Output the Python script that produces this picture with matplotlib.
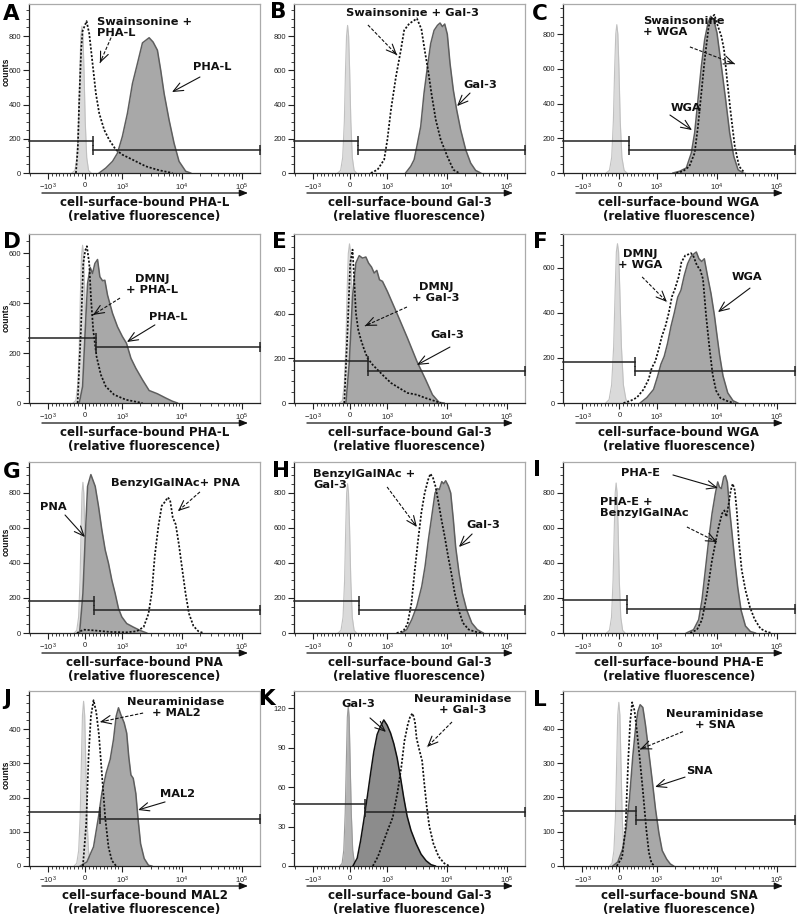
import matplotlib
matplotlib.use("Agg")
import matplotlib.pyplot as plt
from matplotlib.ticker import FixedLocator, FixedFormatter

plt.rcParams['font.family'] = ['Liberation Sans', 'DejaVu Sans']
plt.rcParams['mathtext.fontset'] = 'custom'
plt.rcParams['mathtext.rm'] = 'Liberation Sans'
plt.rcParams['mathtext.it'] = 'Liberation Sans:italic'
plt.rcParams['mathtext.bf'] = 'Liberation Sans:bold'

W, H = 798, 916

# ---------------- data (fluorescence value, counts) ----------------
# A
a_ctrl_x = [-360, -280, -225, -180, -147, -118, -90, -62, -33, 0, 40, 90, 160]
a_ctrl_y = [0, 15, 90, 300, 600, 800, 857, 800, 600, 300, 90, 15, 0]
a_fill_x = [378, 557, 739, 873, 1007, 1225, 1486, 1800, 2182, 2820, 3282, 3876, 4400, 5010, 6067, 7350, 8900, 11500, 13920]
a_fill_y = [0, 29, 68, 116, 213, 349, 523, 640, 760, 790, 765, 717, 600, 465, 310, 174, 68, 10, 0]
a_dot_x = [-252, -200, -162, -110, -72, 36, 108, 198, 288, 378, 513, 648, 828, 1007, 1486, 2477, 4130, 6900]
a_dot_y = [0, 150, 426, 720, 829, 887, 814, 640, 465, 349, 252, 194, 136, 107, 78, 39, 16, 0]
# B
b_ctrl_x = [-340, -260, -205, -160, -128, -100, -72, -44, -16, 16, 56, 105, 170]
b_ctrl_y = [0, 15, 90, 300, 600, 800, 862, 800, 600, 300, 90, 15, 0]
b_fill_x = [2030, 2475, 2820, 3130, 3630, 4120, 4700, 5330, 6067, 6900, 7640, 8360, 9140, 10100, 11200, 12720, 14480, 16860, 20460, 24760, 30000, 36400]
b_fill_y = [0, 39, 78, 155, 271, 465, 620, 756, 833, 862, 876, 855, 870, 810, 640, 484, 368, 252, 136, 58, 15, 0]
b_dot_x = [557, 738, 918, 1007, 1155, 1400, 1690, 1919, 2330, 2820, 3130, 3730, 4230, 4820, 5480, 6480, 7840, 10100, 12720, 15840]
b_dot_y = [0, 19, 78, 194, 368, 562, 717, 833, 872, 891, 903, 840, 717, 600, 465, 310, 194, 97, 19, 0]
# C
c_ctrl_x = [-360, -270, -210, -165, -130, -100, -72, -44, -14, 20, 65, 125, 200]
c_ctrl_y = [0, 15, 90, 300, 600, 800, 854, 800, 600, 300, 90, 15, 0]
c_fill_x = [1873, 2415, 3120, 3780, 4290, 4880, 5550, 6300, 7160, 7940, 8900, 10100, 11950, 14060, 16420, 19190, 22630, 27470]
c_fill_y = [0, 10, 29, 115, 230, 422, 614, 768, 864, 902, 883, 806, 614, 422, 230, 96, 19, 0]
c_dot_x = [2130, 2750, 3500, 4290, 4880, 5550, 6300, 7350, 8230, 9140, 10250, 11950, 13230, 14850, 17100, 19950, 23520, 29230]
c_dot_y = [0, 10, 38, 115, 269, 461, 653, 844, 893, 911, 854, 787, 710, 537, 345, 154, 38, 0]
# D
d_ctrl_x = [-330, -255, -203, -163, -130, -101, -72, -43, -12, 20, 62, 110, 175]
d_ctrl_y = [0, 10, 70, 220, 440, 590, 631, 590, 440, 220, 70, 10, 0]
d_fill_x = [-162, -72, -9, 63, 135, 198, 261, 333, 396, 468, 531, 603, 738, 873, 1007, 1180, 1400, 1690, 2180, 2820, 3870, 5330, 6900, 8360]
d_fill_y = [0, 66, 266, 478, 542, 518, 558, 574, 505, 489, 491, 432, 359, 305, 266, 239, 179, 139, 93, 50, 37, 20, 7, 0]
d_dot_x = [-207, -117, -54, 0, 45, 108, 153, 216, 306, 423, 557, 783, 1155, 2180]
d_dot_y = [0, 292, 558, 610, 627, 558, 425, 292, 186, 113, 66, 33, 13, 0]
# E
e_ctrl_x = [-290, -215, -162, -120, -85, -52, -20, 12, 45, 80, 122, 175, 240]
e_ctrl_y = [0, 10, 80, 250, 500, 670, 713, 670, 500, 250, 80, 10, 0]
e_fill_x = [-117, -27, 63, 153, 243, 333, 423, 495, 576, 648, 720, 792, 873, 1007, 1486, 2180, 3130, 4400, 5700, 7350, 8900]
e_fill_y = [0, 179, 478, 627, 660, 649, 654, 627, 609, 582, 594, 552, 545, 500, 396, 291, 187, 104, 37, 3, 0]
e_dot_x = [-162, -72, 0, 63, 108, 153, 216, 288, 378, 468, 603, 738, 918, 1155, 1590, 2180, 3130, 4400, 6067, 7840]
e_dot_y = [0, 328, 627, 687, 552, 403, 328, 284, 239, 201, 172, 149, 119, 90, 67, 45, 37, 22, 10, 0]
# F
f_ctrl_x = [-370, -280, -212, -157, -116, -84, -54, -24, 9, 52, 106, 175, 260]
f_ctrl_y = [0, 15, 80, 250, 500, 670, 707, 670, 500, 250, 80, 15, 0]
f_fill_x = [557, 738, 918, 1040, 1180, 1340, 1524, 1735, 1963, 2250, 2540, 2890, 3280, 3730, 4230, 4580, 5060, 5620, 6220, 7070, 8040, 9140, 10100, 11200, 12720, 15240, 18700, 22400]
f_fill_y = [0, 24, 60, 118, 172, 207, 265, 340, 398, 470, 500, 566, 618, 650, 663, 670, 640, 628, 640, 560, 485, 390, 300, 210, 120, 45, 10, 0]
f_dot_x = [108, 288, 468, 648, 783, 873, 963, 1080, 1225, 1400, 1590, 1800, 2030, 2330, 2590, 3000, 3410, 3730, 4120, 4700, 5330, 5910, 6640, 7530, 8570, 9740, 11500, 14850, 19190]
f_dot_y = [0, 9, 24, 60, 104, 157, 184, 237, 296, 340, 398, 472, 508, 560, 625, 655, 660, 665, 650, 610, 590, 550, 390, 250, 125, 55, 22, 9, 0]
# G
g_ctrl_x = [-300, -230, -180, -140, -111, -87, -63, -39, -13, 17, 55, 100, 165]
g_ctrl_y = [0, 15, 90, 300, 600, 800, 861, 800, 600, 300, 90, 15, 0]
g_fill_x = [-153, -63, 0, 63, 153, 270, 360, 450, 540, 630, 720, 810, 900, 990, 1190, 1530, 1980, 2570]
g_fill_y = [0, 226, 547, 837, 905, 838, 723, 589, 475, 398, 302, 226, 140, 92, 54, 34, 15, 0]
g_dot_x = [-225, -45, 225, 675, 1190, 1750, 2280, 2750, 3120, 3500, 4030, 4580, 5200, 5770, 6300, 6990, 7840, 8900, 10100, 11500, 13070, 15480, 18700, 22630]
g_dot_y = [0, 19, 15, 6, 4, 10, 34, 110, 230, 440, 612, 727, 750, 775, 760, 660, 620, 500, 360, 220, 110, 40, 10, 0]
# H
h_ctrl_x = [-330, -250, -195, -153, -122, -97, -72, -47, -18, 15, 55, 105, 170]
h_ctrl_y = [0, 15, 90, 300, 600, 800, 853, 800, 600, 300, 90, 15, 0]
h_fill_x = [1750, 2120, 2570, 3120, 3780, 4290, 4880, 5550, 6300, 6900, 7440, 8150, 8780, 9480, 10510, 11500, 12720, 13920, 15840, 17990, 21220, 25880, 32000, 40200]
h_fill_y = [0, 19, 76, 152, 267, 380, 533, 667, 800, 825, 820, 865, 853, 870, 840, 800, 648, 491, 343, 229, 133, 57, 19, 0]
h_dot_x = [1440, 1850, 2180, 2540, 2890, 3280, 3730, 4230, 4820, 5270, 5840, 6380, 7070, 8040, 9140, 10380, 11800, 13390, 15660, 18450, 22940, 28900, 37300]
h_dot_y = [0, 10, 50, 170, 360, 530, 690, 800, 875, 910, 885, 840, 760, 650, 550, 440, 340, 230, 130, 57, 20, 8, 0]
# I
i_ctrl_x = [-350, -270, -215, -173, -140, -115, -90, -65, -37, -5, 35, 85, 150]
i_ctrl_y = [0, 15, 90, 300, 600, 800, 857, 800, 600, 300, 90, 15, 0]
i_fill_x = [3130, 4120, 5010, 5690, 6470, 7350, 8360, 9480, 10380, 11070, 11950, 13070, 13920, 15030, 16420, 18200, 20150, 22360, 25390, 30000, 36400, 44060]
i_fill_y = [0, 19, 76, 190, 360, 531, 683, 796, 863, 834, 825, 891, 900, 860, 700, 550, 400, 260, 130, 40, 8, 0]
i_dot_x = [3630, 4700, 5690, 6900, 8360, 9480, 10780, 12280, 13390, 14480, 15840, 17100, 18450, 19950, 21530, 23530, 26020, 30000, 35450, 42380, 53300, 69000, 83600]
i_dot_y = [0, 19, 76, 227, 417, 512, 607, 683, 700, 665, 740, 815, 853, 815, 700, 510, 360, 245, 150, 80, 25, 5, 0]
# J
j_ctrl_x = [-300, -230, -178, -138, -105, -75, -45, -15, 15, 48, 88, 135, 200]
j_ctrl_y = [0, 8, 45, 140, 300, 440, 481, 440, 300, 140, 45, 8, 0]
j_fill_x = [-135, 45, 225, 360, 450, 567, 675, 765, 837, 900, 963, 1080, 1190, 1290, 1400, 1530, 1690, 1850, 2030, 2330, 2750, 3120]
j_fill_y = [0, 12, 56, 144, 213, 272, 311, 369, 437, 462, 442, 418, 388, 318, 266, 256, 212, 134, 65, 22, 2, 0]
j_dot_x = [-63, 27, 90, 153, 225, 297, 369, 450, 540, 630, 720, 837]
j_dot_y = [0, 124, 320, 437, 484, 450, 385, 270, 142, 55, 16, 0]
# K
k_ctrl_x = [-280, -220, -175, -137, -105, -79, -54, -29, -3, 29, 67, 115, 170]
k_ctrl_y = [0, 2, 12, 40, 80, 113, 122, 113, 80, 40, 12, 2, 0]
k_fill_x = [72, 189, 279, 369, 459, 549, 639, 729, 819, 909, 1000, 1140, 1290, 1470, 1660, 1890, 2150, 2500, 3040, 3680, 4470, 5400, 6380]
k_fill_y = [0, 6, 19, 35, 52, 70, 87, 100, 106, 111, 107, 101, 93, 82, 68, 52, 38, 27, 17, 9, 4, 1, 0]
k_dot_x = [612, 747, 882, 1017, 1240, 1500, 1720, 1940, 2220, 2440, 2660, 2900, 3100, 3450, 3830, 4180, 4580, 5060, 5910, 7250, 9000, 10900]
k_dot_y = [0, 7, 17, 27, 37, 57, 75, 95, 108, 114, 116, 110, 97, 88, 80, 62, 45, 30, 17, 7, 2, 0]
# L
l_ctrl_x = [-265, -200, -150, -110, -76, -47, -18, 11, 40, 74, 114, 165, 230]
l_ctrl_y = [0, 8, 45, 140, 300, 440, 477, 440, 300, 140, 45, 8, 0]
l_fill_x = [-180, -45, 90, 180, 270, 360, 432, 495, 557, 630, 702, 792, 882, 972, 1095, 1240, 1470, 1690, 1920]
l_fill_y = [0, 12, 51, 109, 196, 321, 400, 450, 470, 462, 410, 330, 250, 165, 95, 45, 20, 6, 0]
l_dot_x = [-72, 72, 162, 234, 288, 342, 405, 468, 540, 630, 720, 792, 864, 954]
l_dot_y = [0, 26, 110, 304, 420, 477, 453, 395, 320, 220, 110, 40, 8, 0]

panel_letters = ["A", "B", "C", "D", "E", "F", "G", "H", "I", "J", "K", "L"]
lectins = ["PHA-L", "Gal-3", "WGA", "PHA-L", "Gal-3", "WGA", "PNA", "Gal-3", "PHA-E", "MAL2", "Gal-3", "SNA"]
gate_x = [198, 216, 252, 288, 468, 423, 225, 234, 216, 387, 387, 432]
gate_left_y = [184, 184, 182, 259, 187, 181, 184, 185, 190, 158, 47, 159]
gate_right_y = [132, 132, 130, 223, 145, 141, 134, 133, 138, 136, 41, 133]
y_max = [987, 987, 973, 676, 757, 750, 977, 977, 977, 511, 133, 510]
y_step = [200, 200, 200, 200, 200, 200, 200, 200, 200, 100, 30, 100]
y_top_tick = [800, 800, 800, 600, 600, 600, 800, 800, 800, 400, 120, 400]
x_tick_values = [-1000, 0, 1000, 10000, 100000]
x_tick_labels = [r'$\mathregular{-10^3}$', '0', r'$\mathregular{10^3}$', r'$\mathregular{10^4}$', r'$\mathregular{10^5}$']

ctrl = [(a_ctrl_x, a_ctrl_y), (b_ctrl_x, b_ctrl_y), (c_ctrl_x, c_ctrl_y), (d_ctrl_x, d_ctrl_y),
        (e_ctrl_x, e_ctrl_y), (f_ctrl_x, f_ctrl_y), (g_ctrl_x, g_ctrl_y), (h_ctrl_x, h_ctrl_y),
        (i_ctrl_x, i_ctrl_y), (j_ctrl_x, j_ctrl_y), (k_ctrl_x, k_ctrl_y), (l_ctrl_x, l_ctrl_y)]
filled = [(a_fill_x, a_fill_y), (b_fill_x, b_fill_y), (c_fill_x, c_fill_y), (d_fill_x, d_fill_y),
          (e_fill_x, e_fill_y), (f_fill_x, f_fill_y), (g_fill_x, g_fill_y), (h_fill_x, h_fill_y),
          (i_fill_x, i_fill_y), (j_fill_x, j_fill_y), (k_fill_x, k_fill_y), (l_fill_x, l_fill_y)]
dotted = [(a_dot_x, a_dot_y), (b_dot_x, b_dot_y), (c_dot_x, c_dot_y), (d_dot_x, d_dot_y),
          (e_dot_x, e_dot_y), (f_dot_x, f_dot_y), (g_dot_x, g_dot_y), (h_dot_x, h_dot_y),
          (i_dot_x, i_dot_y), (j_dot_x, j_dot_y), (k_dot_x, k_dot_y), (l_dot_x, l_dot_y)]

# annotations: (text, (tx, ty), ha, va, tail, tip, dashed)
annotations = [
    [("Swainsonine +\nPHA-L", (0.294, 0.923), 'left', 'top', (0.364, 0.828), (0.307, 0.651), True),
     ("PHA-L", (0.71, 0.627), 'left', 'center', (0.740, 0.568), (0.619, 0.479), False)],
    [("Swainsonine + Gal-3", (0.515, 0.947), 'center', 'center', (0.320, 0.876), (0.446, 0.698), True),
     ("Gal-3", (0.805, 0.521), 'center', 'center', (0.762, 0.473), (0.706, 0.396), False)],
    [("Swainsonine\n+ WGA", (0.345, 0.929), 'left', 'top', (0.547, 0.746), (0.741, 0.645), True),
     ("WGA", (0.466, 0.385), 'left', 'center', (0.461, 0.343), (0.556, 0.254), False)],
    [("DMNJ\n+ PHA-L", (0.532, 0.763), 'center', 'top', (0.394, 0.621), (0.277, 0.521), True),
     ("PHA-L", (0.602, 0.509), 'center', 'center', (0.545, 0.462), (0.424, 0.361), False)],
    [("DMNJ\n+ Gal-3", (0.615, 0.716), 'center', 'top', (0.489, 0.568), (0.307, 0.456), True),
     ("Gal-3", (0.662, 0.402), 'center', 'center', (0.675, 0.331), (0.532, 0.225), False)],
    [("DMNJ\n+ WGA", (0.332, 0.911), 'center', 'top', (0.341, 0.746), (0.448, 0.598), True),
     ("WGA", (0.793, 0.746), 'center', 'center', (0.806, 0.680), (0.668, 0.538), False)],
    [("BenzylGalNAc+ PNA", (0.636, 0.877), 'center', 'center', (0.740, 0.825), (0.645, 0.713), True),
     ("PNA", (0.104, 0.737), 'center', 'center', (0.156, 0.690), (0.242, 0.561), False)],
    [("BenzylGalNAc +\nGal-3", (0.082, 0.959), 'left', 'top', (0.403, 0.854), (0.532, 0.620), True),
     ("Gal-3", (0.818, 0.632), 'center', 'center', (0.771, 0.579), (0.714, 0.503), False)],
    [("PHA-E", (0.332, 0.936), 'center', 'center', (0.474, 0.924), (0.668, 0.848), False),
     ("PHA-E +\nBenzylGalNAc", (0.159, 0.795), 'left', 'top', (0.534, 0.620), (0.664, 0.532), True)],
    [("Neuraminidase\n+ MAL2", (0.636, 0.966), 'center', 'top', (0.494, 0.874), (0.307, 0.823), True),
     ("MAL2", (0.645, 0.411), 'center', 'center', (0.589, 0.366), (0.472, 0.320), False)],
    [("Gal-3", (0.277, 0.926), 'center', 'center', (0.329, 0.846), (0.398, 0.766), False),
     ("Neuraminidase\n+ Gal-3", (0.732, 0.983), 'center', 'top', (0.684, 0.823), (0.576, 0.680), True)],
    [("Neuraminidase\n+ SNA", (0.655, 0.898), 'center', 'top', (0.517, 0.768), (0.332, 0.667), True),
     ("SNA", (0.586, 0.542), 'center', 'center', (0.526, 0.508), (0.397, 0.452), False)],
]

cols = [(29, 260), (294, 525), (563, 795)]
rows = [(4, 173), (234, 403), (462, 633), (691, 866)]
letter_pos = [(3, 4), (270, 2), (532, 4), (3, 232), (272, 232), (533, 232),
              (3, 462), (272, 461), (533, 460), (3, 689), (259, 689), (533, 690)]
counts_pos = [72, 318, 542, 775]

XMIN, XMAX = -2100, 2.0e5
minor_x = [-2000] + [-100 * k for k in range(1, 10)] + [100 * k for k in range(1, 10)]
for dec in (1e3, 1e4, 1e5):
    minor_x += [k * dec for k in range(2, 10) if k * dec < XMAX]

fig = plt.figure(figsize=(W / 100, H / 100), dpi=100)
fig.patch.set_facecolor('white')

for i in range(12):
    r, c = divmod(i, 3)
    l, rr = cols[c]
    t, b = rows[r]
    hpx = b - t
    ax = fig.add_axes([l / W, 1 - b / H, (rr - l) / W, hpx / H])
    ax.set_xscale('symlog', linthresh=1000, linscale=0.555)
    ax.set_xlim(XMIN, XMAX)
    ax.set_ylim(0, y_max[i])

    k_panel = (i == 10)
    ctrl_fc = '#b4b4b4' if k_panel else '#dadada'
    ctrl_ec = '#9a9a9a' if k_panel else '#c0c0c0'
    fill_fc = '#8c8c8c' if k_panel else '#a8a8a8'
    fill_ec = '#111111' if k_panel else '#5e5e5e'

    cx, cy = ctrl[i]
    ax.fill_between(cx, cy, 0, color=ctrl_fc, lw=0, zorder=1)
    ax.plot(cx, cy, color=ctrl_ec, lw=0.8, zorder=1.5)
    fx, fy = filled[i]
    ax.fill_between(fx, fy, 0, color=fill_fc, lw=0, zorder=2)
    ax.plot(fx, fy, color=fill_ec, lw=1.1, zorder=3)
    dx, dy = dotted[i]
    ax.plot(dx, dy, color='#111111', lw=1.25, ls=(0, (1.2, 1.0)), zorder=4)

    # gates
    gx = gate_x[i]
    ax.plot([XMIN, gx], [gate_left_y[i], gate_left_y[i]], color='#222222', lw=1.1, zorder=5, clip_on=False)
    ax.plot([gx], [gate_left_y[i]], marker='|', ms=7, mew=1.1, color='#222222', zorder=5, clip_on=False)
    ax.plot([gx, XMAX], [gate_right_y[i], gate_right_y[i]], color='#222222', lw=1.1, marker='|',
            ms=7, mew=1.1, zorder=5, clip_on=False)

    # spines
    for s in ('left', 'bottom'):
        ax.spines[s].set_color('#222222')
        ax.spines[s].set_linewidth(0.9)
    for s in ('top', 'right'):
        ax.spines[s].set_color('#aaaaaa')
        ax.spines[s].set_linewidth(0.9)

    ax.xaxis.set_major_locator(FixedLocator(x_tick_values))
    ax.xaxis.set_major_formatter(FixedFormatter(x_tick_labels))
    ax.xaxis.set_minor_locator(FixedLocator(minor_x))
    ax.tick_params(axis='x', which='major', length=4, width=0.8, labelsize=5.5, pad=2.5,
                   colors='#222222', direction='out')
    ax.tick_params(axis='x', which='minor', length=2.5, width=0.6, colors='#222222')
    step = y_step[i]
    major_y = [step * k for k in range(int(y_top_tick[i] // step) + 1)]
    ax.yaxis.set_major_locator(FixedLocator(major_y))
    nsub = 3 if k_panel else 4
    minor_y = [step * k / nsub for k in range(int(y_max[i] * nsub // step) + 1)]
    ax.yaxis.set_minor_locator(FixedLocator(minor_y))
    ax.tick_params(axis='y', which='major', length=4, width=0.8, labelsize=5.5, pad=1.5,
                   colors='#222222')
    ax.tick_params(axis='y', which='minor', length=2, width=0.6, colors='#222222')

    # arrow under axis
    ya = -20 / hpx
    ax.annotate('', xy=(0.948, ya), xycoords='axes fraction', xytext=(0.056, ya),
                textcoords='axes fraction',
                arrowprops=dict(arrowstyle='-|>,head_length=0.5,head_width=0.2', color='#111111',
                                lw=0.9, shrinkA=0, shrinkB=0))
    ax.text(0.5, -29.5 / hpx, "cell-surface-bound " + lectins[i], transform=ax.transAxes,
            ha='center', va='center', fontsize=8.6, fontweight='bold', family='DejaVu Sans',
            color='#111111')
    ax.text(0.5, -43.5 / hpx, "(relative fluorescence)", transform=ax.transAxes,
            ha='center', va='center', fontsize=8.6, fontweight='bold', family='DejaVu Sans',
            color='#111111')

    for (txt, (tx, ty), ha, va, tail, tip, dashed) in annotations[i]:
        ax.text(tx, ty, txt, transform=ax.transAxes, ha=ha, va=va, fontsize=8.2,
                fontweight='bold', family='DejaVu Sans', linespacing=1.12,
                multialignment=ha if ha != 'center' else 'center', color='#111111', zorder=6)
        if dashed:
            ax.plot([tail[0], tip[0]], [tail[1], tip[1]], transform=ax.transAxes, color='#111111',
                    lw=0.8, ls=(0, (3, 1.5)), zorder=6)
            hx = tip[0] + 0.12 * (tail[0] - tip[0])
            hy = tip[1] + 0.12 * (tail[1] - tip[1])
            ax.annotate('', xy=tip, xycoords='axes fraction', xytext=(hx, hy),
                        textcoords='axes fraction',
                        arrowprops=dict(arrowstyle='->,head_length=0.7,head_width=0.3',
                                        color='#111111', lw=0.8, shrinkA=0, shrinkB=0), zorder=6)
        else:
            ax.annotate('', xy=tip, xycoords='axes fraction', xytext=tail,
                        textcoords='axes fraction',
                        arrowprops=dict(arrowstyle='->,head_length=0.7,head_width=0.3',
                                        color='#111111', lw=0.8, shrinkA=0, shrinkB=0), zorder=6)

    lx, ly = letter_pos[i]
    fig.text(lx / W, 1 - ly / H, panel_letters[i], ha='left', va='top', fontsize=15.5,
             fontweight='bold', family='DejaVu Sans', color='#000000')
    if c == 0:
        fig.text(6 / W, 1 - counts_pos[r] / H, 'counts', rotation=90, ha='center', va='center',
                 fontsize=6.2, fontweight='bold', color='#111111')

fig.savefig('out.png', dpi=100, facecolor='white')
